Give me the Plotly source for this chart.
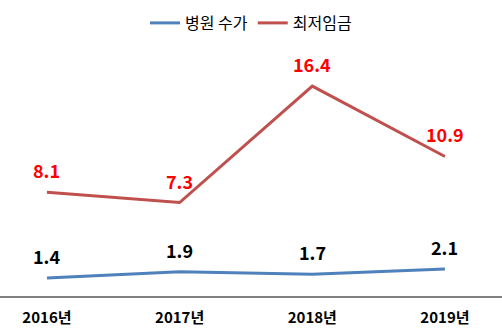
import plotly.graph_objects as go

categories = ["2016년", "2017년", "2018년", "2019년"]
hospital_fee = [1.4, 1.9, 1.7, 2.1]
min_wage = [8.1, 7.3, 16.4, 10.9]

FONT = "Noto Sans CJK KR, Malgun Gothic, sans-serif"
BLUE = "#4F81BD"
RED = "#C0504D"

xs = list(range(len(categories)))

fig = go.Figure()
fig.add_trace(go.Scatter(x=xs, y=hospital_fee, mode="lines", name="병원 수가",
                         line=dict(color=BLUE, width=3)))
fig.add_trace(go.Scatter(x=xs, y=min_wage, mode="lines", name="최저임금",
                         line=dict(color=RED, width=3)))

annotations = []
for x, v in zip(xs, hospital_fee):
    annotations.append(dict(x=x, y=v, text=f"<b>{v}</b>", showarrow=False,
                            yshift=22, font=dict(size=18, color="black", family=FONT)))
for x, v in zip(xs, min_wage):
    annotations.append(dict(x=x, y=v, text=f"<b>{v}</b>", showarrow=False,
                            yshift=22, font=dict(size=18, color="#FF0000", family=FONT)))

fig.update_layout(
    width=502, height=336,
    margin=dict(l=0, r=0, t=40, b=40),
    paper_bgcolor="white", plot_bgcolor="white",
    font=dict(family=FONT),
    showlegend=True,
    legend=dict(orientation="h", x=0.5, xanchor="center", y=1.0, yanchor="bottom",
                font=dict(size=16, color="black", family=FONT), itemwidth=30,
                bgcolor="rgba(0,0,0,0)"),
    annotations=annotations,
)
fig.update_xaxes(range=[-0.354, 3.43], tickvals=xs,
                 ticktext=[f"<b>{c}</b>" for c in categories],
                 showgrid=False, zeroline=False, showline=True, linecolor="#808080",
                 linewidth=1.5, ticks="", tickfont=dict(size=15, color="black", family=FONT),
                 ticklabelstandoff=7)
fig.update_yaxes(range=[0, 20], visible=False, showgrid=False, zeroline=False)

fig.write_html("out.html")
